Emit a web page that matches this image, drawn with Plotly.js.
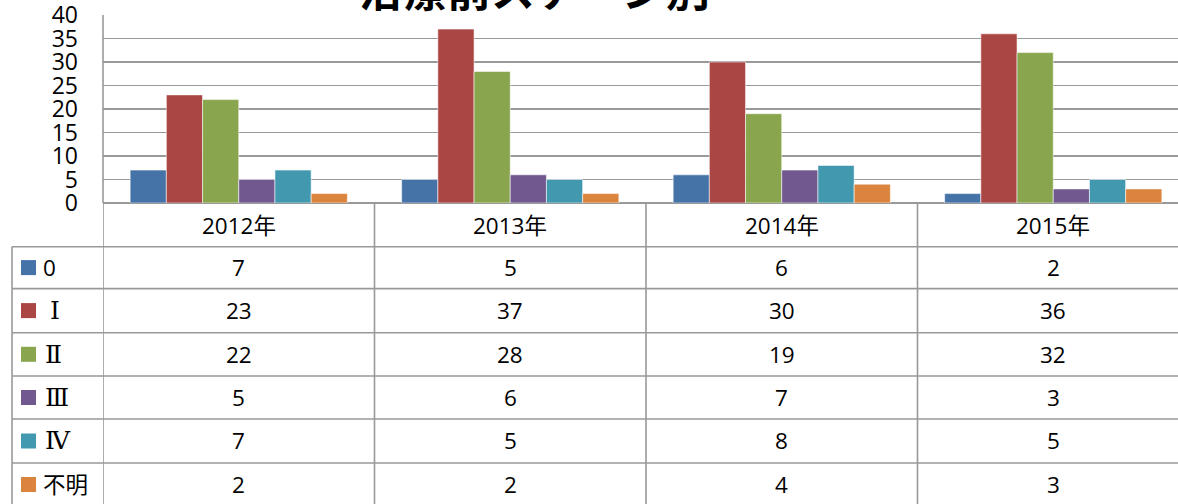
<!DOCTYPE html>
<html>
<head>
<meta charset="utf-8">
<script src="https://cdn.plot.ly/plotly-3.0.1.min.js"></script>
<style>
html,body{margin:0;padding:0;background:#fff;}
#chart{width:1178px;height:504px;}
</style>
</head>
<body>
<div id="chart"></div>
<script>
// ---- data ----
const years = ["2012年", "2013年", "2014年", "2015年"];
const stages = ["0", "Ⅰ", "Ⅱ", "Ⅲ", "Ⅳ", "不明"];
const stage0 = [7, 5, 6, 2];
const stage1 = [23, 37, 30, 36];
const stage2 = [22, 28, 19, 32];
const stage3 = [5, 6, 7, 3];
const stage4 = [7, 5, 8, 5];
const stageUnknown = [2, 2, 4, 3];
const yTicks = [0, 5, 10, 15, 20, 25, 30, 35, 40];
const titleText = "治療前ステージ別";

const series = [stage0, stage1, stage2, stage3, stage4, stageUnknown];
const colors = ["#4572A7", "#AA4643", "#89A54E", "#71588F", "#4198AF", "#DB843D"];

// ---- geometry (pixels) ----
const W = 1178, H = 504;
const plotL = 103, plotT = 15, plotB = 203;
const plotH = plotB - plotT;
const plotW = W - plotL;
const groupW = 271.5;
const xMax = -0.5 + plotW / groupW;
const py = p => (plotB - p) / plotH;          // pixel y -> paper
const px = p => (p - plotL) / plotW;          // pixel x -> paper

const rowLines = [246.7, 288.6, 332.7, 376, 419, 463];
const rowCenters = [267.6, 310.6, 354.3, 397.5, 441, 484.5];
const headerCenter = 225;
const gridCol = "#999999";

const traces = series.map((vals, i) => ({
  type: "bar",
  x: years,
  y: vals,
  name: stages[i],
  marker: {color: colors[i], line: {color: "rgba(255,255,255,0.55)", width: 1}},
  hoverinfo: "none"
}));

const shapes = [];
// vertical table lines
for (let i = 0; i <= years.length; i++) {
  shapes.push({type: "line", xref: "x", yref: "paper", x0: i - 0.5, x1: i - 0.5,
    y0: py(plotB), y1: py(H + 5), line: {color: gridCol, width: 1.6}});
}
// left axis line through chart
shapes.push({type: "line", xref: "paper", yref: "paper", x0: 0, x1: 0,
  y0: 1, y1: 0, line: {color: gridCol, width: 1.6}});
// legend column left border
shapes.push({type: "line", xref: "paper", yref: "paper", x0: px(12), x1: px(12),
  y0: py(rowLines[0]), y1: py(H + 5), line: {color: gridCol, width: 1.6}});
// horizontal row lines
rowLines.forEach(r => shapes.push({type: "line", xref: "paper", yref: "paper",
  x0: px(12), x1: 1.02, y0: py(r), y1: py(r), line: {color: gridCol, width: 1.6}}));
// legend squares
rowCenters.forEach((c, i) => shapes.push({type: "rect", xref: "paper", yref: "paper",
  x0: px(21), x1: px(36), y0: py(c - 7.5), y1: py(c + 7.5),
  fillcolor: colors[i], line: {width: 0}}));

const annotations = [];
// title (cut at the top of the picture)
annotations.push({text: "<b>" + titleText + "</b>", xref: "paper", yref: "paper",
  x: px(534), y: py(-12), xanchor: "center", yanchor: "middle", showarrow: false,
  font: {family: "Noto Sans CJK JP", size: 44, color: "#000"}});
// header years
years.forEach((yr, j) => annotations.push({text: yr, xref: "x", yref: "paper",
  x: j, y: py(headerCenter), xanchor: "center", yanchor: "middle", showarrow: false,
  font: {family: "Open Sans, Noto Sans CJK JP", size: 22.5, color: "#000"}}));
// cell values
series.forEach((vals, i) => vals.forEach((v, j) => annotations.push({text: String(v),
  xref: "x", yref: "paper", x: j, y: py(rowCenters[i]), xanchor: "center", yanchor: "middle",
  showarrow: false, font: {family: "Open Sans", size: 22.5, color: "#000"}})));
// legend labels
stages.forEach((s, i) => {
  const roman = /[ⅠⅡⅢⅣ]/.test(s);
  annotations.push({text: s, xref: "paper", yref: "paper",
    x: px(roman ? (s === "Ⅰ" ? 48 : 43) : 41), y: py(rowCenters[i]), xanchor: "left", yanchor: "middle",
    showarrow: false,
    font: {family: roman ? "DejaVu Serif, Liberation Serif" : "Open Sans, Noto Sans CJK JP", size: roman ? 25 : 22.5, color: "#000"}});
});

const layout = {
  width: W, height: H,
  margin: {l: plotL, r: 0, t: plotT, b: H - plotB, pad: 0},
  paper_bgcolor: "#fff", plot_bgcolor: "#fff",
  barmode: "group", bargap: 0.2, bargroupgap: 0,
  showlegend: false,
  xaxis: {type: "category", range: [-0.5, xMax], showticklabels: false, ticks: "",
    showgrid: false, zeroline: false, showline: false, fixedrange: true},
  yaxis: {range: [0, 40], tickvals: yTicks, ticktext: yTicks.map(String), ticks: "",
    showgrid: true, gridcolor: gridCol, gridwidth: 1.6, zeroline: true, zerolinecolor: gridCol,
    zerolinewidth: 1.6, showline: false, ticklabelstandoff: 24, ticklabeloverflow: "allow",
    tickfont: {family: "Open Sans", size: 23, color: "#000"}, fixedrange: true},
  shapes: shapes,
  annotations: annotations
};

Plotly.newPlot("chart", traces, layout, {displayModeBar: false, staticPlot: true});
</script>
</body>
</html>
